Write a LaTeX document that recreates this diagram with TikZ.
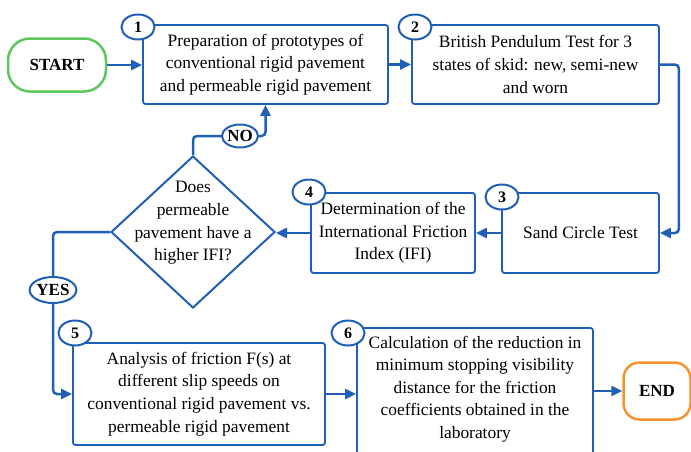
\documentclass[tikz,border=0pt]{standalone}
\usepackage{fontspec}
\setmainfont{Liberation Serif}
\usetikzlibrary{shapes.geometric,arrows.meta}
\definecolor{fblue}{HTML}{1F5FB5}
\definecolor{sgreen}{HTML}{5DC65D}
\definecolor{eorange}{HTML}{F7922E}
\begin{document}
\begin{tikzpicture}[x=1pt,y=-1pt,
 box/.style={draw=fblue,line width=1.8pt,rounded corners=2.5pt,fill=white,align=center,inner sep=0pt,font=\fontsize{17.4}{22.6}\selectfont},
 txt/.style={align=center,inner sep=0pt,font=\fontsize{17.4}{22.6}\selectfont},
 num/.style={draw=fblue,line width=2pt,ellipse,fill=white,minimum width=33pt,minimum height=25pt,inner sep=0pt,font=\bfseries\fontsize{16}{16}\selectfont},
 term/.style={line width=2.5pt,fill=white,inner sep=0pt,font=\bfseries\fontsize{17}{17}\selectfont},
 conn/.style={draw=fblue,line width=2.5pt,-{Triangle[length=11pt,width=10pt]},rounded corners=4pt},
 plain/.style={draw=fblue,line width=2.5pt,rounded corners=4pt},
]
\useasboundingbox (0,0) rectangle (691,451);
\node[term,draw=sgreen,rounded corners=22pt,minimum width=98pt,minimum height=53pt] (start) at (57,65) {START};
\node[term,draw=eorange,rounded corners=16pt,minimum width=67pt,minimum height=57pt] (end) at (657,391) {END};

\node[box,minimum width=245pt,minimum height=79pt] (b1) at (265.5,64.5) {Preparation of prototypes of\\conventional rigid pavement\\and permeable rigid pavement};
\node[box,minimum width=247pt,minimum height=79pt] (b2) at (535.5,64.5) {British Pendulum Test for 3\\states of skid: new, semi-new\\and worn};
\node[box,minimum width=157pt,minimum height=80pt] (b3) at (580.5,233) {Sand Circle Test};
\node[box,minimum width=164pt,minimum height=80pt] (b4) at (393,233) {Determination of the\\International Friction\\Index (IFI)};
\node[draw=fblue,line width=2pt,diamond,minimum width=164pt,minimum height=152pt,inner sep=0pt,fill=white] (dia) at (193,232) {};
\node[txt] (diat) at (193,223) {Does\\permeable\\pavement have a\\higher IFI?};
\node[box,minimum width=252pt,minimum height=102pt] (b5) at (199,394) {Analysis of friction F(s) at\\different slip speeds on\\conventional rigid pavement vs.\\permeable rigid pavement};
\node[box,minimum width=236pt,minimum height=134pt] (b6) at (475,395) {};
\node[txt] (b6t) at (475,389) {Calculation of the reduction in\\minimum stopping visibility\\distance for the friction\\coefficients obtained in the\\laboratory};

\draw[conn] (start.east) -- (start.east -| b1.west);
\draw[conn] (b1.east) -- (b2.west);
\draw[conn] (b2.east) -- ++(19,0) |- (b3.east);
\draw[conn] (b3.west) -- (b4.east);
\draw[conn] (b4.west) -- (b4.west -| dia.east);
\node[num,minimum width=34pt,minimum height=23pt,font=\bfseries\fontsize{17}{17}\selectfont] (no) at (240,136) {NO};
\node[num,minimum width=38pt,minimum height=26pt,font=\bfseries\fontsize{17}{17}\selectfont] (yes) at (53,290) {YES};
\draw[plain] (dia.north) |- (no.west);
\draw[conn] (no.east) -| (b1.south);
\draw[plain] (dia.west) -| (yes.north);
\draw[conn] (yes.south) |- (b5.west);
\draw[conn] (b5.east) -- (b5.east -| b6.west);
\draw[conn] (b6.east |- end.west) -- (end.west);

\node[num] (c1) at (138,27) {1};
\node[num] (c2) at (415,27) {2};
\node[num] (c3) at (502,197) {3};
\node[num] (c4) at (309,192) {4};
\node[num] (c5) at (75,333) {5};
\node[num] (c6) at (348,333) {6};
\end{tikzpicture}
\end{document}
